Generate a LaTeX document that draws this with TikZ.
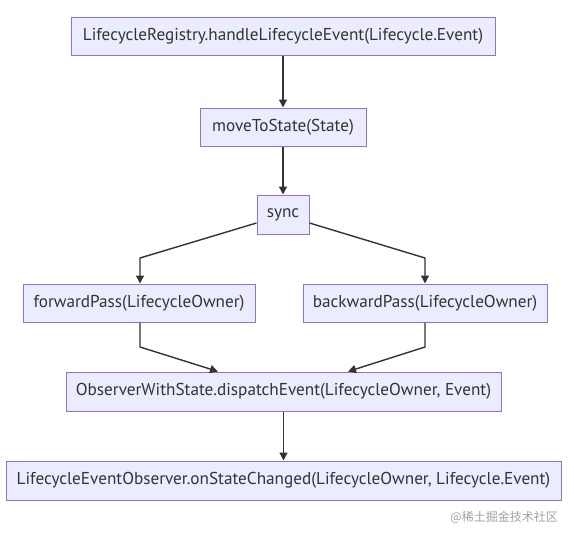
\documentclass[tikz,border=0pt]{standalone}
\usepackage{fontspec}
\setmainfont{PT Sans}
\newfontfamily\cjk{Noto Sans CJK SC}
\usetikzlibrary{arrows.meta,calc}
\definecolor{boxfill}{HTML}{ECECFF}
\definecolor{boxline}{HTML}{9370DB}
\definecolor{txt}{HTML}{333333}
\definecolor{wm}{HTML}{A0A0A0}
\tikzset{
  box/.style={draw=boxline, fill=boxfill, line width=1pt, text=txt, inner sep=0pt,
    minimum height=38pt, font=\fontsize{17.2}{20}\selectfont},
  arr/.style={draw=txt, line width=1.4pt, -{Triangle[length=8pt,width=8pt]}},
}
\begin{document}
\begin{tikzpicture}[x=1pt,y=-1pt]
\useasboundingbox (0,0) rectangle (574,539);
\node[box, minimum width=424pt] (n1) at (283,36.5) {LifecycleRegistry.handleLifecycleEvent(Lifecycle.Event)};
\node[box, minimum width=166pt] (n2) at (283,127) {moveToState(State)};
\node[box, minimum width=52pt, minimum height=39pt] (n3) at (283,214.5) {sync};
\node[box, minimum width=232pt] (n4) at (139,303) {forwardPass(LifecycleOwner)};
\node[box, minimum width=244pt] (n5) at (425,303) {backwardPass(LifecycleOwner)};
\node[box, minimum width=435pt, minimum height=39pt] (n6) at (283.5,391.5) {ObserverWithState.dispatchEvent(LifecycleOwner, Event)};
\node[box, minimum width=555pt, minimum height=39pt] (n7) at (283.5,480.5) {LifecycleEventObserver.onStateChanged(LifecycleOwner, Lifecycle.Event)};
\node[anchor=east, text=wm, font=\cjk\fontsize{12}{14}\selectfont, inner sep=0pt] (wmk) at (558,517) {@稀土掘金技术社区};
\coordinate (b1) at (140,258);
\coordinate (b2) at (425,258);
\coordinate (b3) at (140,347);
\coordinate (b4) at (425,347);
\draw[arr] (n1.south) -- (n2.north);
\draw[arr] (n2.south) -- (n3.north);
\draw[arr] ([yshift=-8.5pt]n3.west) -- (b1) -- (b1 |- n4.north);
\draw[arr] ([yshift=-8.5pt]n3.east) -- (b2) -- (b2 |- n5.north);
\draw[arr] (b3 |- n4.south) -- (b3) -- ([xshift=-65.5pt]n6.north);
\draw[arr] (b4 |- n5.south) -- (b4) -- ([xshift=64.5pt]n6.north);
\draw[arr] (n6.south) -- (n7.north);
\end{tikzpicture}
\end{document}
